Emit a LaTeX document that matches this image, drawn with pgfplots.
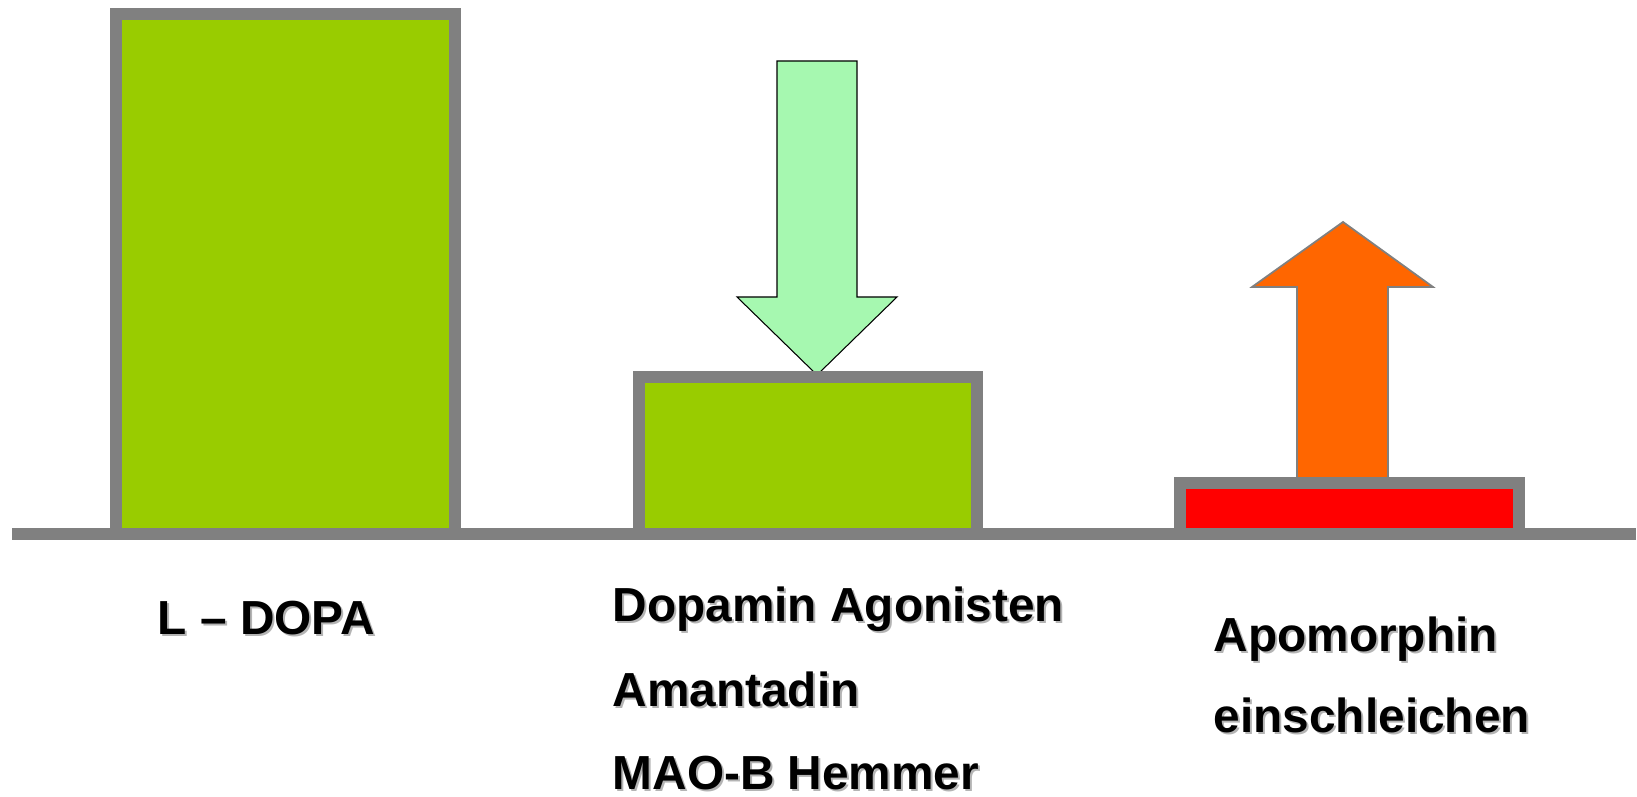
\documentclass[border=0pt]{standalone}
\usepackage{pgfplots}
\pgfplotsset{compat=1.18}
\usepackage{fontspec}
\setmainfont{Liberation Sans}
\definecolor{bargray}{HTML}{808080}
\definecolor{bargreen}{HTML}{99CC00}
\definecolor{barred}{HTML}{FF0000}
\definecolor{arrowgreen}{HTML}{A6F8B0}
\definecolor{arroworange}{HTML}{FF6600}
\definecolor{shadowgray}{HTML}{B4B4B4}
\newcommand{\lbl}[3]{%
  \node[anchor=base west, inner sep=0pt, text=shadowgray, xshift=0.2mm, yshift=-0.2mm] at (axis cs:#1,#2) {\bfseries #3};
  \node[anchor=base west, inner sep=0pt, text=black] at (axis cs:#1,#2) {\bfseries #3};
}
\begin{document}
\begin{tikzpicture}
\begin{axis}[
  width=16.37cm, height=7.97cm, scale only axis,
  xmin=0, xmax=1637, ymin=-263, ymax=534,
  hide axis, clip=false,
  font=\fontsize{13.6pt}{16pt}\selectfont,
]
% baseline
\addplot[bargray, line width=1.2mm, line cap=butt] coordinates {(12,0) (1636,0)};
% down arrow (green)
\addplot[draw=black, line width=0.3pt, fill=arrowgreen] coordinates {
  (777,473) (857,473) (857,237) (897,237) (817,159) (737,237) (777,237)} -- cycle;
% up arrow (orange)
\addplot[draw=bargray, line width=0.5pt, fill=arroworange] coordinates {
  (1297,56) (1297,247) (1252,247) (1343,312) (1433,247) (1388,247) (1388,56)} -- cycle;
% bars
\addplot[ybar, bar shift=0pt, bar width=339, draw=bargray, line width=1.2mm, fill=bargreen] coordinates {(285.5,520)};
\addplot[ybar, bar shift=0pt, bar width=338, draw=bargray, line width=1.2mm, fill=bargreen] coordinates {(808,157)};
\addplot[ybar, bar shift=0pt, bar width=339, draw=bargray, line width=1.2mm, fill=barred] coordinates {(1349.5,51)};
% labels
\lbl{157}{-101}{L – DOPA}
\lbl{612}{-88}{Dopamin Agonisten}
\lbl{612}{-173}{Amantadin}
\lbl{612}{-256}{MAO-B Hemmer}
\lbl{1213}{-118}{Apomorphin}
\lbl{1213}{-199}{einschleichen}
\end{axis}
\pgfresetboundingbox
\path (current axis.south west) rectangle (current axis.north east);
\end{tikzpicture}
\end{document}
